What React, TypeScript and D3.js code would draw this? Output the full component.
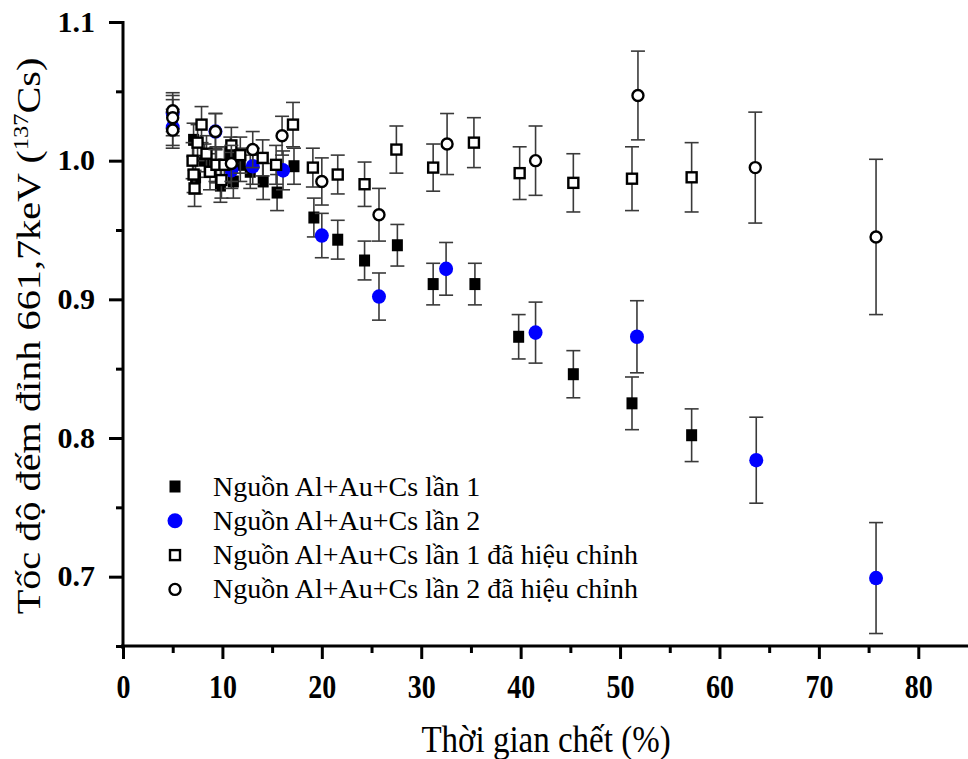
import React, { useEffect, useRef } from "react";
import { select, scaleLinear, axisLeft, axisBottom, format, range } from "d3";

// dead time (%) / normalized count rate
const s1X = [7.1, 7.3, 8.2, 9.3, 9.8, 10.8, 11.1, 11.8, 12.8, 14.1, 15.5, 17.2, 19.2, 21.6, 24.3, 27.6, 31.2, 35.4, 39.8, 45.3, 51.2, 57.2];
const s1Y = [1.015, 0.988, 1.0, 0.997, 0.982, 1.005, 0.985, 0.997, 0.992, 0.985, 0.977, 0.996, 0.959, 0.943, 0.928, 0.939, 0.911, 0.911, 0.873, 0.846, 0.825, 0.802];
const s1Err = [0.012, 0.012, 0.012, 0.012, 0.012, 0.012, 0.012, 0.012, 0.012, 0.013, 0.013, 0.013, 0.014, 0.014, 0.014, 0.015, 0.015, 0.015, 0.016, 0.017, 0.019, 0.019];

const s2X = [5.0, 5.0, 9.3, 10.9, 13.05, 16.1, 20.0, 25.75, 32.5, 41.5, 51.7, 63.7, 75.75];
const s2Y = [1.034, 1.024, 1.021, 0.993, 0.996, 0.993, 0.946, 0.902, 0.922, 0.876, 0.873, 0.784, 0.699];
const s2Err = [0.013, 0.013, 0.013, 0.013, 0.013, 0.014, 0.016, 0.017, 0.019, 0.022, 0.026, 0.031, 0.04];

const s3X = [7.0, 7.1, 7.2, 7.5, 7.9, 8.4, 8.75, 9.4, 9.9, 10.2, 10.9, 11.8, 14.05, 15.4, 17.1, 19.1, 21.6, 24.3, 27.5, 31.2, 35.3, 39.9, 45.3, 51.2, 57.2];
const s3Y = [1.0, 0.99, 0.98, 1.013, 1.026, 1.005, 0.992, 0.997, 0.986, 0.997, 1.011, 1.004, 1.002, 0.997, 1.026, 0.995, 0.99, 0.983, 1.008, 0.995, 1.013, 0.991, 0.984, 0.987, 0.988];
const s3Err = [0.013, 0.013, 0.013, 0.013, 0.013, 0.013, 0.013, 0.013, 0.013, 0.013, 0.013, 0.013, 0.013, 0.014, 0.016, 0.014, 0.014, 0.016, 0.017, 0.017, 0.018, 0.019, 0.021, 0.023, 0.025];

const s4X = [5.0, 5.0, 5.0, 9.3, 10.9, 13.05, 16.0, 20.0, 25.75, 32.6, 41.5, 51.8, 63.6, 75.75];
const s4Y = [1.036, 1.031, 1.022, 1.021, 0.998, 1.008, 1.018, 0.985, 0.961, 1.012, 1.0, 1.047, 0.995, 0.945];
const s4Err = [0.013, 0.013, 0.013, 0.013, 0.013, 0.013, 0.014, 0.017, 0.019, 0.022, 0.025, 0.032, 0.04, 0.056];

const legendLabels = [
  "Nguồn Al+Au+Cs lần 1",
  "Nguồn Al+Au+Cs lần 2",
  "Nguồn Al+Au+Cs lần 1 đã hiệu chỉnh",
  "Nguồn Al+Au+Cs lần 2 đã hiệu chỉnh",
];

const yMajor = [0.7, 0.8, 0.9, 1.0, 1.1];
const yMinor = [0.65, 0.75, 0.85, 0.95, 1.05];
const xMajor = range(0, 81, 10);
const xMinor = range(5, 80, 10);

const FONT = "'Liberation Serif', 'Times New Roman', serif";

function drawMarker(g, type, size) {
  if (type === "fsq") {
    g.append("rect").attr("x", -5.5).attr("y", -6).attr("width", 11).attr("height", 12).attr("fill", "#000");
  } else if (type === "fci") {
    g.append("ellipse").attr("rx", size ? 7.5 : 7).attr("ry", size ? 7.5 : 7.3).attr("fill", "#0000ff");
  } else if (type === "osq") {
    g.append("rect").attr("x", -5).attr("y", -5).attr("width", 10).attr("height", 10)
      .attr("fill", "#fff").attr("stroke", "#000").attr("stroke-width", 2.4);
  } else {
    g.append("circle").attr("r", 5.5)
      .attr("fill", "#fff").attr("stroke", "#000").attr("stroke-width", 2.4);
  }
}

function DeadTimeChart() {
  const svgRef = useRef(null);

  useEffect(() => {
    const svg = select(svgRef.current);
    svg.selectAll("*").remove();

    const xScale = scaleLinear().domain([0, 85]).range([123, 968]);
    const yScale = scaleLinear().domain([0.65, 1.1]).range([646, 22]);

    const series = [
      { xs: s1X, ys: s1Y, errs: s1Err, type: "fsq" },
      { xs: s2X, ys: s2Y, errs: s2Err, type: "fci" },
      { xs: s3X, ys: s3Y, errs: s3Err, type: "osq" },
      { xs: s4X, ys: s4Y, errs: s4Err, type: "oci" },
    ];

    // data: error bars first, then the symbols, series by series
    series.forEach(s => {
      const g = svg.append("g");
      s.xs.forEach((xv, i) => {
        const cx = xScale(xv);
        const top = yScale(s.ys[i] + s.errs[i]);
        const bot = yScale(s.ys[i] - s.errs[i]);
        const eb = g.append("g").attr("stroke", "#3a3a3a").attr("stroke-width", 1.6);
        eb.append("line").attr("x1", cx).attr("x2", cx).attr("y1", top).attr("y2", bot);
        eb.append("line").attr("x1", cx - 7).attr("x2", cx + 7).attr("y1", top).attr("y2", top);
        eb.append("line").attr("x1", cx - 7).attr("x2", cx + 7).attr("y1", bot).attr("y2", bot);
      });
      s.xs.forEach((xv, i) => {
        const m = g.append("g").attr("transform", `translate(${xScale(xv)},${yScale(s.ys[i])})`);
        drawMarker(m, s.type, false);
      });
    });

    // axes
    const yAxisG = svg.append("g").attr("transform", "translate(123,0)");
    yAxisG.append("g").call(axisLeft(yScale).tickValues(yMinor).tickSize(7).tickSizeOuter(0).tickFormat(() => ""));
    yAxisG.append("g").call(axisLeft(yScale).tickValues(yMajor).tickSize(14).tickPadding(14).tickSizeOuter(0).tickFormat(format(".1f")));
    const xAxisG = svg.append("g").attr("transform", "translate(0,646)");
    xAxisG.append("g").call(axisBottom(xScale).tickValues(xMinor).tickSize(7).tickSizeOuter(0).tickFormat(() => ""));
    xAxisG.append("g").call(axisBottom(xScale).tickValues(xMajor).tickSize(13).tickSizeOuter(0).tickFormat(format("d")));

    svg.selectAll(".domain").remove();
    svg.selectAll(".tick line").attr("stroke", "#000").attr("stroke-width", 3);
    yAxisG.selectAll("text")
      .attr("dy", null).attr("y", 9)
      .attr("font-family", FONT).attr("font-size", 30).attr("font-weight", "bold").attr("fill", "#000");
    xAxisG.selectAll("text")
      .attr("dy", null).attr("y", 0)
      .attr("transform", "translate(0,52) scale(1,1.17)")
      .attr("font-family", FONT).attr("font-size", 28).attr("font-weight", "bold").attr("fill", "#000");

    svg.append("line").attr("x1", 123).attr("x2", 123).attr("y1", 21).attr("y2", 649)
      .attr("stroke", "#000").attr("stroke-width", 3);
    svg.append("line").attr("x1", 121).attr("x2", 968).attr("y1", 646).attr("y2", 646)
      .attr("stroke", "#000").attr("stroke-width", 3);

    // axis titles
    svg.append("text")
      .attr("transform", "translate(546,752) scale(1,1.13)")
      .attr("text-anchor", "middle").attr("font-family", FONT).attr("font-size", 33)
      .text("Thời gian chết (%)");

    const yt = svg.append("text")
      .attr("transform", "translate(40,336) scale(1,1.22) rotate(-90)")
      .attr("text-anchor", "middle").attr("font-family", FONT).attr("font-size", 33);
    yt.append("tspan").text("Tốc độ đếm đỉnh 661,7keV (");
    yt.append("tspan").attr("dy", -12).attr("font-size", 20).text("137");
    yt.append("tspan").attr("dy", 12).text("Cs)");

    // legend
    const types = ["fsq", "fci", "osq", "oci"];
    legendLabels.forEach((label, i) => {
      const cy = 486.5 + i * 34.3;
      const m = svg.append("g").attr("transform", `translate(175,${cy})`);
      drawMarker(m, types[i], true);
      svg.append("text").attr("x", 213).attr("y", cy + 9)
        .attr("font-family", FONT).attr("font-size", 28).attr("fill", "#000")
        .text(label);
    });
  }, []);

  return (
    <svg ref={svgRef} width={968} height={759}
      style={{ position: "absolute", left: 0, top: 0, background: "#fff" }} />
  );
}

export default function App() {
  return <DeadTimeChart />;
}
